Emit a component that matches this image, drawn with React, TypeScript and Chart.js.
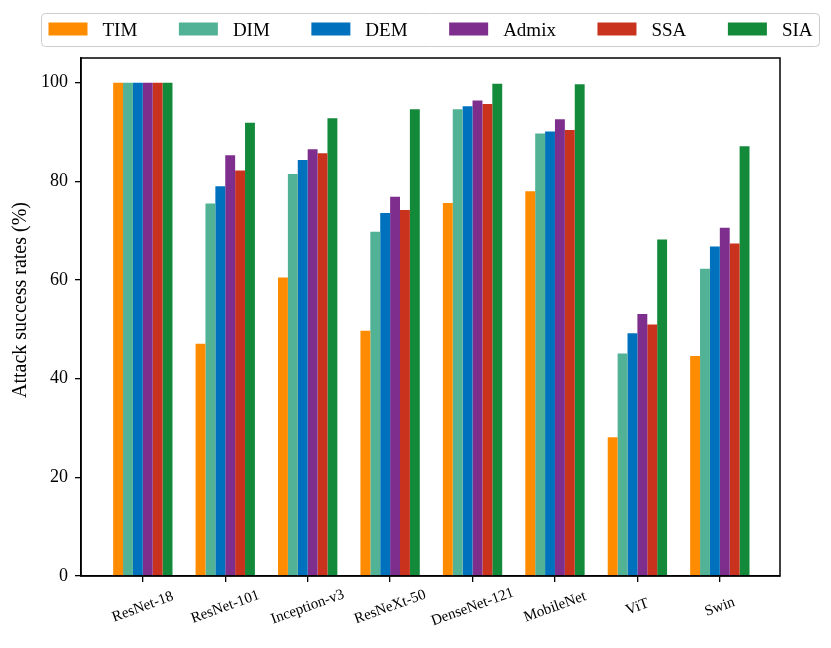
import { useEffect, useRef } from 'react';
import { Chart, registerables } from 'chart.js';

Chart.register(...registerables);

// Model names on the x axis
const categories = [
  'ResNet-18',
  'ResNet-101',
  'Inception-v3',
  'ResNeXt-50',
  'DenseNet-121',
  'MobileNet',
  'ViT',
  'Swin',
];

// Attack success rates (%) per method
const timValues = [100, 47.1, 60.5, 49.7, 75.6, 78.0, 28.1, 44.6];
const dimValues = [100, 75.5, 81.5, 69.8, 94.6, 89.7, 45.1, 62.3];
const demValues = [100, 79.0, 84.3, 73.6, 95.2, 90.1, 49.2, 66.8];
const admixValues = [100, 85.3, 86.5, 76.9, 96.4, 92.6, 53.1, 70.6];
const ssaValues = [100, 82.2, 85.7, 74.2, 95.7, 90.4, 51.0, 67.4];
const siaValues = [100, 91.9, 92.8, 94.6, 99.8, 99.7, 68.2, 87.1];

const methods = ['TIM', 'DIM', 'DEM', 'Admix', 'SSA', 'SIA'];
const methodColors = ['#FF8C00', '#52B296', '#0072BD', '#7E2F8E', '#C9331E', '#13893A'];
const seriesValues = [timValues, dimValues, demValues, admixValues, ssaValues, siaValues];

const yTicks = [0, 20, 40, 60, 80, 100];
const yTitle = 'Attack success rates (%)';

const SERIF = '"Liberation Serif", "DejaVu Serif", serif';

// matplotlib-style legend box on top
const legendPlugin = {
  id: 'mplLegend',
  afterDraw(chart: Chart) {
    const ctx = chart.ctx;
    const boxX = 41.5;
    const boxY = 13.5;
    const boxW = 778;
    const boxH = 33;
    const pad = 7;
    const handle = 39;
    const textPad = 15;
    ctx.save();
    ctx.font = `19px ${SERIF}`;
    const widths = methods.map((m) => ctx.measureText(m).width);
    const itemsW = widths.reduce((a, w) => a + handle + textPad + w, 0);
    const colSpace = (boxW - 2 * pad - itemsW) / (methods.length - 1);

    ctx.beginPath();
    ctx.roundRect(boxX, boxY, boxW, boxH, 4);
    ctx.fillStyle = 'rgba(255,255,255,0.8)';
    ctx.fill();
    ctx.strokeStyle = '#cccccc';
    ctx.lineWidth = 1;
    ctx.stroke();

    let x = boxX + pad;
    methods.forEach((m, i) => {
      ctx.fillStyle = methodColors[i];
      ctx.fillRect(x, 22.5, handle, 13);
      ctx.fillStyle = '#000';
      ctx.textBaseline = 'alphabetic';
      ctx.textAlign = 'left';
      ctx.fillText(m, x + handle + textPad, 35.5);
      x += handle + textPad + widths[i] + colSpace;
    });
    ctx.restore();
  },
};

// frame around the axes, y title, rotated + centred x tick labels
const framePlugin = {
  id: 'mplFrame',
  afterDraw(chart: Chart) {
    const { ctx, chartArea } = chart;
    const xScale = chart.scales.x;
    ctx.save();
    ctx.strokeStyle = '#000';
    ctx.lineWidth = 1.5;
    ctx.strokeRect(chartArea.left, chartArea.top, chartArea.right - chartArea.left, chartArea.bottom - chartArea.top);

    ctx.fillStyle = '#000';
    ctx.textAlign = 'center';
    ctx.textBaseline = 'middle';

    ctx.save();
    ctx.font = `20px ${SERIF}`;
    ctx.translate(21, 300);
    ctx.rotate(-Math.PI / 2);
    ctx.fillText(yTitle, 0, 0);
    ctx.restore();

    ctx.font = `15px ${SERIF}`;
    categories.forEach((c, i) => {
      const px = xScale.getPixelForValue(i);
      ctx.save();
      ctx.translate(px, chartArea.bottom + 31);
      ctx.rotate((-20 * Math.PI) / 180);
      ctx.fillText(c, 0, 0);
      ctx.restore();
    });
    ctx.restore();
  },
};

export default function App() {
  const canvasRef = useRef<HTMLCanvasElement>(null);
  const chartRef = useRef<Chart | null>(null);

  useEffect(() => {
    if (!canvasRef.current) return;
    if (chartRef.current) {
      chartRef.current.destroy();
      chartRef.current = null;
    }
    const ctx = canvasRef.current.getContext('2d');
    if (!ctx) return;

    chartRef.current = new Chart(ctx, {
      type: 'bar',
      data: {
        datasets: methods.map((m, i) => ({
          label: m,
          data: seriesValues[i].map((v, j) => ({ x: j, y: v })),
          backgroundColor: methodColors[i],
          borderWidth: 0,
          categoryPercentage: 0.72,
          barPercentage: 1.0,
        })),
      },
      options: {
        responsive: true,
        maintainAspectRatio: false,
        animation: false,
        layout: { padding: { top: 58, right: 51, left: 0, bottom: 0 } },
        plugins: {
          legend: { display: false },
          tooltip: { enabled: false },
        },
        scales: {
          x: {
            type: 'linear',
            min: -0.75,
            max: 7.73,
            offset: false,
            grid: {
              offset: false,
              drawOnChartArea: false,
              drawTicks: true,
              tickLength: 6,
              color: '#000',
              lineWidth: 1.3,
            },
            border: { display: true, color: '#000', width: 1.5 },
            ticks: { display: false },
            afterBuildTicks: (axis: any) => {
              axis.ticks = categories.map((_, i) => ({ value: i }));
            },
            afterFit: (axis: any) => {
              axis.height = 72;
            },
          },
          y: {
            min: 0,
            max: 105,
            grid: {
              drawOnChartArea: false,
              drawTicks: true,
              tickLength: 6,
              color: '#000',
              lineWidth: 1.3,
            },
            border: { display: true, color: '#000', width: 1.5 },
            ticks: {
              color: '#000',
              padding: 7,
              font: { family: SERIF, size: 18 },
            },
            afterBuildTicks: (axis: any) => {
              axis.ticks = yTicks.map((v) => ({ value: v }));
            },
            afterFit: (axis: any) => {
              axis.width = 81;
            },
          },
        },
      },
      plugins: [legendPlugin, framePlugin],
    });

    return () => {
      if (chartRef.current) {
        chartRef.current.destroy();
        chartRef.current = null;
      }
    };
  }, []);

  return (
    <div style={{ position: 'fixed', left: 0, top: 0, width: 831, height: 648, background: '#fff' }}>
      <canvas ref={canvasRef} />
    </div>
  );
}
